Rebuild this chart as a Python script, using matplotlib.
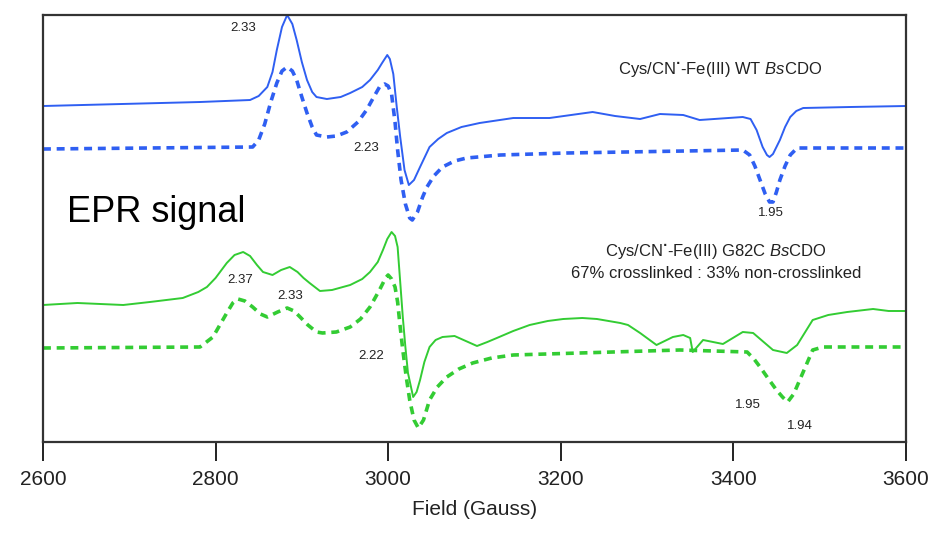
import matplotlib
matplotlib.use('Agg')
import matplotlib.pyplot as plt

plt.rcParams['font.family'] = ['Liberation Sans', 'DejaVu Sans']
plt.rcParams['mathtext.fontset'] = 'custom'
plt.rcParams['mathtext.rm'] = 'Liberation Sans'
plt.rcParams['mathtext.it'] = 'Liberation Sans:italic'

# WT BsCDO, experiment (solid) and simulation (dashed)
wt_exp_field = [2600, 2782, 2840, 2850, 2860, 2866, 2871, 2877, 2883, 2889, 2894, 2900,
                2906, 2912, 2917, 2929, 2945, 2956, 2970, 2979, 2988, 2993, 2999, 3002,
                3006, 3010, 3014, 3019, 3024, 3030, 3037, 3048, 3058, 3068, 3085, 3106,
                3145, 3187, 3237, 3263, 3292, 3315, 3342, 3361, 3411, 3420, 3427, 3434,
                3439, 3442, 3446, 3450, 3454, 3460, 3466, 3473, 3481, 3535, 3600]
wt_exp_sig = [336, 340, 342, 346, 355, 370, 392, 415, 427, 418, 402, 380,
              362, 350, 345, 343, 345, 349, 355, 362, 372, 379, 387, 383,
              368, 335, 305, 272, 257, 262, 275, 295, 303, 309, 315, 319,
              324, 324, 330, 326, 323, 328, 327, 322, 325, 323, 312, 295,
              287, 285, 288, 295, 302, 315, 325, 331, 334, 335, 336]

wt_sim_field = [2600, 2843, 2850, 2857, 2864, 2871, 2877, 2883, 2889, 2894, 2900, 2906,
                2912, 2917, 2929, 2940, 2952, 2965, 2975, 2984, 2990, 2996, 3000, 3004,
                3008, 3011, 3015, 3020, 3025, 3028, 3034, 3040, 3045, 3053, 3063, 3077,
                3091, 3130, 3207, 3411, 3419, 3425, 3431, 3437, 3442, 3446, 3450, 3454,
                3460, 3466, 3474, 3600]
wt_sim_sig = [293, 295, 302, 318, 340, 359, 371, 375, 371, 362, 345, 329,
              315, 307, 305, 306, 310, 320, 332, 346, 355, 358, 356, 348,
              320, 292, 262, 238, 224, 222, 230, 245, 255, 266, 275, 281,
              284, 287, 289, 292, 287, 276, 262, 248, 240, 240, 250, 262,
              276, 287, 294, 294]

# G82C BsCDO, experiment (solid) and simulation (dashed)
g82c_exp_field = [2600, 2640, 2693, 2724, 2762, 2780, 2790, 2800, 2813, 2822, 2832, 2840,
                  2848, 2855, 2866, 2876, 2886, 2895, 2902, 2909, 2921, 2935, 2956, 2970,
                  2979, 2988, 2994, 2999, 3004, 3008, 3011, 3014, 3017, 3020, 3023, 3029,
                  3033, 3037, 3042, 3048, 3055, 3063, 3077, 3090, 3103, 3115, 3126, 3145,
                  3164, 3185, 3203, 3225, 3242, 3269, 3278, 3292, 3311, 3330, 3342, 3350,
                  3353, 3365, 3388, 3411, 3423, 3446, 3462, 3474, 3492, 3510, 3532, 3562,
                  3580, 3600]
g82c_exp_sig = [137, 139, 137, 140, 144, 150, 155, 164, 179, 187, 190, 186,
                177, 170, 167, 172, 175, 170, 164, 159, 151, 152, 157, 163,
                170, 180, 192, 203, 210, 206, 195, 160, 125, 95, 69, 45,
                50, 62, 80, 95, 102, 105, 106, 101, 96, 100, 104, 111,
                117, 121, 123, 124, 123, 119, 117, 109, 97, 105, 107, 104,
                90, 102, 98, 110, 109, 92, 89, 97, 122, 127, 130, 133,
                131, 131]

g82c_sim_field = [2600, 2782, 2797, 2805, 2813, 2820, 2826, 2834, 2843, 2852, 2860, 2872,
                  2883, 2891, 2898, 2907, 2917, 2924, 2940, 2956, 2968, 2979, 2990, 2997,
                  3000, 3004, 3008, 3011, 3014, 3017, 3021, 3025, 3030, 3035, 3041, 3048,
                  3057, 3068, 3082, 3098, 3120, 3145, 3222, 3338, 3416, 3424, 3431, 3440,
                  3450, 3457, 3463, 3470, 3477, 3485, 3492, 3504, 3600]
g82c_sim_sig = [94, 95, 105, 117, 129, 139, 143, 141, 135, 128, 125, 130,
                134, 131, 125, 117, 110, 109, 110, 115, 123, 135, 152, 164,
                167, 163, 155, 140, 115, 92, 65, 42, 22, 14, 22, 42,
                55, 65, 73, 79, 84, 87, 89, 92, 90, 83, 75, 64,
                52, 45, 40, 48, 62, 78, 92, 95, 95]

# g-value labels
g_labels = ['2.33', '2.23', '1.95', '2.37', '2.33', '2.22', '1.95', '1.94']
g_field = [2832, 2974, 3443, 2829, 2886, 2980, 3417, 3477]
g_sig = [414, 294, 229, 162, 146, 86, 37, 16]

blue = '#2f5ff2'
green = '#33cc33'

fig = plt.figure(figsize=(9.4, 5.4), dpi=100)
ax = fig.add_axes([0.0457, 0.1815, 0.918, 0.7907])

ax.plot(wt_exp_field, wt_exp_sig, '-', color=blue, lw=1.4)
ax.plot(wt_sim_field, wt_sim_sig, color=blue, lw=2.6, linestyle=(0, (2.2, 1.6)))
ax.plot(g82c_exp_field, g82c_exp_sig, '-', color=green, lw=1.4)
ax.plot(g82c_sim_field, g82c_sim_sig, color=green, lw=2.6, linestyle=(0, (2.2, 1.6)))

for t, x, y in zip(g_labels, g_field, g_sig):
    ax.text(x, y, t, fontsize=9.5, ha='center', va='center', color='#222222')

ax.text(0.028, 0.538, 'EPR signal', transform=ax.transAxes, fontsize=26,
        ha='left', va='center', color='black')
ax.text(0.785, 0.872, r'Cys/CN$^{\mathbf{\cdot}}$-Fe(III) WT $\it{Bs}$CDO', transform=ax.transAxes,
        fontsize=12, ha='center', va='center', color='#222222')
ax.text(0.78, 0.445, r'Cys/CN$^{\mathbf{\cdot}}$-Fe(III) G82C $\it{Bs}$CDO', transform=ax.transAxes,
        fontsize=12, ha='center', va='center', color='#222222')
ax.text(0.78, 0.395, '67% crosslinked : 33% non-crosslinked', transform=ax.transAxes,
        fontsize=12, ha='center', va='center', color='#222222')

ax.set_xlim(2600, 3600)
ax.set_ylim(0, 427)
ax.set_xticks([2600, 2800, 3000, 3200, 3400, 3600])
ax.set_yticks([])
ax.tick_params(axis='x', direction='out', length=14, width=1.4, labelsize=15,
               pad=6, colors='#222222')
for s in ax.spines.values():
    s.set_color('#333333')
    s.set_linewidth(1.6)
ax.set_xlabel('Field (Gauss)', fontsize=15, color='#222222', labelpad=8)

fig.savefig('out.png', dpi=100)
